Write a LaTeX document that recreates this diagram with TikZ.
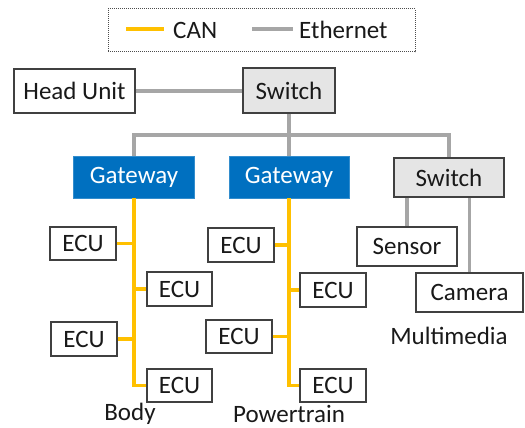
\documentclass[tikz,border=0pt]{standalone}
\usepackage{fontspec}
\setmainfont{Carlito}
\begin{document}
\begin{tikzpicture}[x=1pt,y=-1pt,
  every node/.style={font=\fontsize{25}{29}\selectfont, text=black!90, inner sep=0pt},
  box/.style={draw=black!75, line width=1.2pt, fill=white},
  sw/.style={box, fill=black!10},
  gw/.style={fill=gwblue, text=white, draw=gwblue!80!white, line width=0.8pt},
  eth/.style={draw=ethgray, line width=3.2pt},
  can/.style={draw=canyellow, line width=3.2pt},
  lbl/.style={anchor=center}]
\definecolor{gwblue}{HTML}{0070C0}
\definecolor{ethgray}{HTML}{A6A6A6}
\definecolor{canyellow}{HTML}{FFC000}
\useasboundingbox (0,0) rectangle (525,428);
% legend
\node[draw=black!70, line width=1pt, dash pattern=on 1pt off 1pt, minimum width=307pt, minimum height=43pt] (legend) at (261.5,30.5) {};
\coordinate (cana) at (126,29);
\coordinate (canb) at (164,29);
\coordinate (etha) at (252,29);
\coordinate (ethb) at (293,29);
\draw[can] (cana) -- (canb);
\draw[eth] (etha) -- (ethb);
\node[anchor=west] (cantxt) at (173,30) {CAN};
\node[anchor=west] (ethtxt) at (299,30) {Ethernet};
% top row
\node[box, minimum width=121pt, minimum height=44pt] (hu) at (74.5,91) {Head Unit};
\node[sw, minimum width=92pt, minimum height=45pt] (s1) at (289,90.5) {Switch};
\node[gw, minimum width=121pt, minimum height=42pt] (g1) at (134,177) {Gateway};
\node[gw, minimum width=120pt, minimum height=42pt] (g2) at (289,177) {Gateway};
\node[sw, minimum width=110pt, minimum height=39pt] (s2) at (449,177.5) {Switch};
% body ECUs
\node[box, minimum width=66pt, minimum height=33pt] (b1) at (83,243.5) {ECU};
\node[box, minimum width=65pt, minimum height=34pt] (b2) at (179.5,289) {ECU};
\node[box, minimum width=66pt, minimum height=34pt] (b3) at (84,339) {ECU};
\node[box, minimum width=65pt, minimum height=33pt] (b4) at (179.5,385.5) {ECU};
% powertrain ECUs
\node[box, minimum width=66pt, minimum height=34pt] (p1) at (241,245) {ECU};
\node[box, minimum width=66pt, minimum height=34pt] (p2) at (333,290) {ECU};
\node[box, minimum width=66pt, minimum height=33pt] (p3) at (239,336.5) {ECU};
\node[box, minimum width=66pt, minimum height=33pt] (p4) at (333,385.5) {ECU};
% multimedia
\node[box, minimum width=100pt, minimum height=39pt] (sen) at (407,246.5) {Sensor};
\node[box, minimum width=107pt, minimum height=39pt] (cam) at (469.5,292.5) {Camera};
% labels
\node[lbl] (lbody) at (130,414) {Body};
\node[lbl] (lpt) at (289,414) {Powertrain};
\node[lbl] (lmm) at (449,336) {Multimedia};
% ethernet
\coordinate (bus) at (0,135);
\draw[eth] (hu.east) -- (s1.west |- hu.east);
\draw[eth] (s1.south) -- (g2.north);
\draw[eth] (g1.north) -- (g1.north |- bus) -- (s2.north |- bus) -- (s2.north);
\draw[eth] (s2.south -| sen.north) -- (sen.north);
\draw[eth] (s2.south -| cam.north) -- (cam.north);
% CAN body
\draw[can] (g1.south) -- (g1.south |- b4.west) -- (b4.west);
\draw[can] (b1.east) -- (b1.east -| g1.south);
\draw[can] (b2.west) -- (b2.west -| g1.south);
\draw[can] (b3.east) -- (b3.east -| g1.south);
% CAN powertrain
\draw[can] (g2.south) -- (g2.south |- p4.west) -- (p4.west);
\draw[can] (p1.east) -- (p1.east -| g2.south);
\draw[can] (p2.west) -- (p2.west -| g2.south);
\draw[can] (p3.east) -- (p3.east -| g2.south);
\end{tikzpicture}
\end{document}
